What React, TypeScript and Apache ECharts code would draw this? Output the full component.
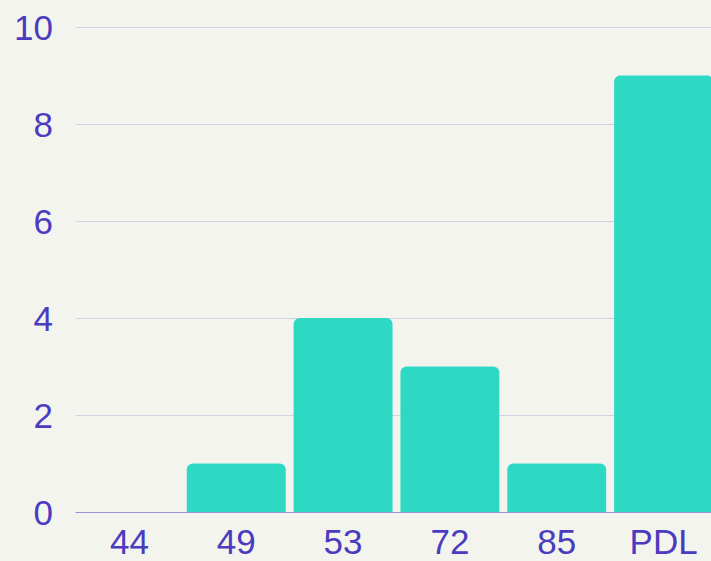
import React, { useEffect, useRef } from "react";
import * as echarts from "echarts";

const categories = ["44", "49", "53", "72", "85", "PDL"];
const counts = [0, 1, 4, 3, 1, 9];
const yTicks = [0, 2, 4, 6, 8, 10];

const TEXT = "#4a3bbf";
const BAR = "#2ed9c4";
const BG = "#f4f4ef";

export default function App() {
  const ref = useRef<HTMLDivElement>(null);
  useEffect(() => {
    if (!ref.current) return;
    const chart = echarts.init(ref.current, null, { renderer: "svg" });
    chart.setOption({
      animation: false,
      backgroundColor: BG,
      grid: { left: 76, right: 3, top: 27, bottom: 49, containLabel: false },
      xAxis: {
        type: "category",
        data: categories,
        axisLine: { show: true, lineStyle: { color: "#9a90dc", width: 1 } },
        axisTick: { show: false },
        axisLabel: {
          color: TEXT,
          fontSize: 35,
          fontFamily: "Liberation Sans",
          margin: 12,
        },
      },
      yAxis: {
        type: "value",
        min: yTicks[0],
        max: yTicks[yTicks.length - 1],
        interval: 2,
        axisLine: { show: false },
        axisTick: { show: false },
        splitLine: { lineStyle: { color: "#d3d0e6", width: 1 } },
        axisLabel: {
          color: TEXT,
          fontSize: 35,
          fontFamily: "Liberation Sans",
          margin: 23,
        },
      },
      series: [
        {
          type: "bar",
          data: counts,
          barCategoryGap: "7.4%",
          itemStyle: { color: BAR, borderRadius: [6, 6, 0, 0] },
        },
      ],
    });
    return () => chart.dispose();
  }, []);
  return (
    <div
      style={{
        position: "absolute",
        left: 0,
        top: 0,
        width: 711,
        height: 561,
        overflow: "hidden",
        background: BG,
      }}
    >
      <div ref={ref} style={{ width: 720, height: 561 }} />
    </div>
  );
}
